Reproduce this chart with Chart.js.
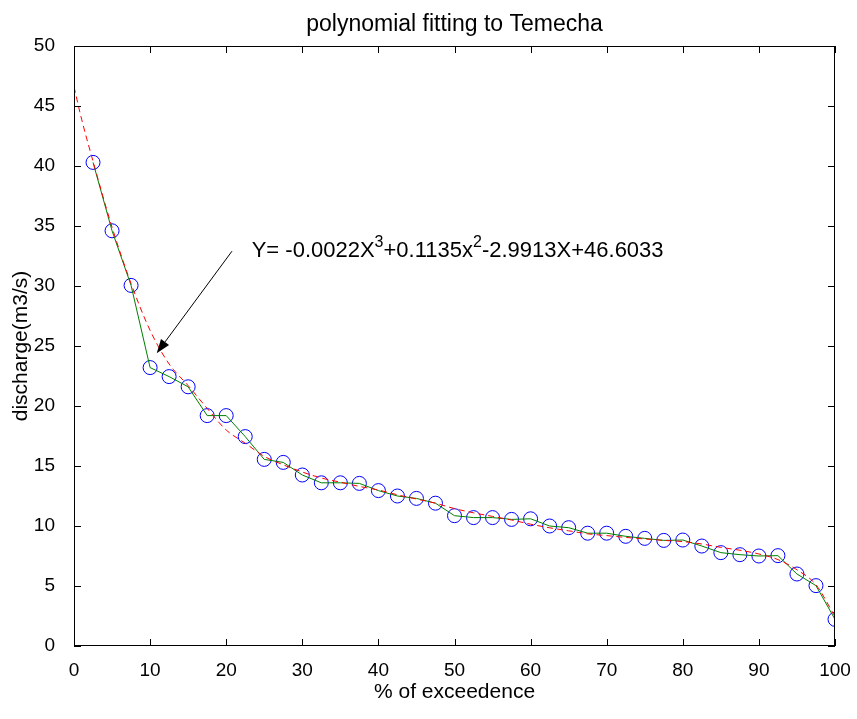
<!DOCTYPE html>
<html>
<head>
<meta charset="utf-8">
<title>polynomial fitting to Temecha</title>
<script src="https://cdn.jsdelivr.net/npm/chart.js@4.4.1/dist/chart.umd.min.js"></script>
<style>
  html, body { margin: 0; padding: 0; background: #fff; }
  canvas { display: block; }
</style>
</head>
<body>
<canvas id="fdc" width="857" height="719"></canvas>
<script>
// observed flow duration points (% of exceedence vs discharge)
const exceedence = [2.5, 5, 7.5, 10, 12.5, 15, 17.5, 20, 22.5, 25, 27.5, 30, 32.5, 35, 37.5, 40,
    42.5, 45, 47.5, 50, 52.5, 55, 57.5, 60, 62.5, 65, 67.5, 70, 72.5, 75, 77.5, 80,
    82.5, 85, 87.5, 90, 92.5, 95, 97.5, 100];
const discharge = [40.3, 34.6, 30.05, 23.2, 22.45, 21.6, 19.2, 19.2, 17.45, 15.55, 15.3, 14.25, 13.6, 13.6, 13.55, 12.95,
    12.5, 12.3, 11.9, 10.86, 10.7, 10.7, 10.55, 10.6, 10.0, 9.86, 9.4, 9.4, 9.14, 8.97, 8.8, 8.83,
    8.33, 7.78, 7.61, 7.5, 7.53, 6.0, 5.03, 2.22];

// fitted curve
const fitX = [0, 1, 2.5, 5, 7.5, 10, 12.5, 15, 17.5, 20, 22.5, 25, 27.5, 30, 32.5, 35, 37.5, 40,
    42.5, 45, 47.5, 50, 52.5, 55, 57.5, 60, 62.5, 65, 67.5, 70, 72.5, 75, 77.5, 80,
    82.5, 85, 87.5, 90, 92.5, 95, 97.5, 100];
const fitY = [46.6, 43.9, 40.4, 34.9, 30.2, 26.3, 23.5, 21.7, 19.8, 18.0, 16.9, 15.8, 15.1, 14.5, 14.0, 13.65, 13.3, 13.0,
    12.6, 12.25, 11.9, 11.45, 11.1, 10.8, 10.5, 10.15, 9.85, 9.6, 9.35, 9.2, 9.05, 8.92, 8.8, 8.7,
    8.5, 8.22, 7.98, 7.67, 7.2, 6.35, 5.1, 2.45];

const xTicksMax = 100, yTicksMax = 50;
const FONT = '"Liberation Sans", Arial, Helvetica, sans-serif';

const toXY = (xs, ys) => xs.map((x, i) => ({ x: x, y: ys[i] }));

// matlab-style box with inward ticks, title and the equation arrow
const matlabFrame = {
    id: 'matlabFrame',
    beforeDraw(chart) {
        const ctx = chart.ctx;
        ctx.save();
        ctx.fillStyle = '#fff';
        ctx.fillRect(0, 0, chart.width, chart.height);
        ctx.restore();
    },
    afterDraw(chart) {
        const ctx = chart.ctx;
        const a = chart.chartArea;
        const xs = chart.scales.x, ys = chart.scales.y;
        const tl = 7;
        ctx.save();
        ctx.strokeStyle = '#000';
        ctx.lineWidth = 1;
        ctx.strokeRect(a.left + 0.5, a.top + 0.5, a.right - a.left - 1, a.bottom - a.top - 1);
        ctx.beginPath();
        xs.ticks.forEach(t => {
            const px = Math.round(xs.getPixelForValue(t.value)) + 0.5;
            ctx.moveTo(px, a.bottom); ctx.lineTo(px, a.bottom - tl);
            ctx.moveTo(px, a.top); ctx.lineTo(px, a.top + tl);
        });
        ys.ticks.forEach(t => {
            const py = Math.round(ys.getPixelForValue(t.value)) + 0.5;
            ctx.moveTo(a.left, py); ctx.lineTo(a.left + tl, py);
            ctx.moveTo(a.right, py); ctx.lineTo(a.right - tl, py);
        });
        ctx.stroke();

        // title
        ctx.fillStyle = '#000';
        ctx.font = '23px ' + FONT;
        ctx.textAlign = 'center';
        ctx.textBaseline = 'alphabetic';
        ctx.fillText('polynomial fitting to Temecha', (a.left + a.right) / 2, 31);

        // arrow to the fitted curve
        const tx = xs.getPixelForValue(20.76), ty = ys.getPixelForValue(32.9);
        const hx = xs.getPixelForValue(10.87), hy = ys.getPixelForValue(24.4);
        const ang = Math.atan2(hy - ty, hx - tx);
        const hl = 14, hw = 5;
        const bx = hx - hl * Math.cos(ang), by = hy - hl * Math.sin(ang);
        ctx.beginPath();
        ctx.moveTo(tx, ty);
        ctx.lineTo(bx, by);
        ctx.stroke();
        ctx.beginPath();
        ctx.moveTo(hx, hy);
        ctx.lineTo(bx + hw * Math.sin(ang), by - hw * Math.cos(ang));
        ctx.lineTo(bx - hw * Math.sin(ang), by + hw * Math.cos(ang));
        ctx.closePath();
        ctx.fill();

        // equation text with superscripts
        const parts = [
            ['Y= -0.0022X', false], ['3', true], ['+0.1135x', false], ['2', true],
            ['-2.9913X+46.6033', false]
        ];
        let cx = xs.getPixelForValue(23.35);
        const base = ys.getPixelForValue(32.4);
        ctx.textAlign = 'left';
        parts.forEach(([s, sup]) => {
            ctx.font = (sup ? '16px ' : '22px ') + FONT;
            ctx.fillText(s, cx, sup ? base - 10 : base);
            cx += ctx.measureText(s).width;
        });
        ctx.restore();
    }
};

const ctx = document.getElementById('fdc').getContext('2d');
const chart = new Chart(ctx, {
    type: 'scatter',
    data: {
        datasets: [
            {
                label: 'polyfit',
                data: toXY(fitX, fitY),
                showLine: true,
                borderColor: '#ff0000',
                borderWidth: 1,
                borderDash: [6, 4],
                pointRadius: 0,
                cubicInterpolationMode: 'monotone',
                order: 1
            },
            {
                label: 'observed line',
                data: toXY(exceedence, discharge),
                showLine: true,
                borderColor: '#008000',
                borderWidth: 1,
                pointRadius: 0,
                tension: 0,
                order: 2
            },
            {
                label: 'observed',
                data: toXY(exceedence, discharge),
                showLine: false,
                pointStyle: 'circle',
                pointRadius: 7,
                pointBorderWidth: 1,
                pointBorderColor: '#0000ff',
                pointBackgroundColor: 'rgba(0,0,0,0)',
                order: 3
            }
        ]
    },
    options: {
        responsive: false,
        animation: false,
        layout: { padding: { top: 46, right: 22, left: 0, bottom: 0 } },
        plugins: {
            legend: { display: false },
            tooltip: { enabled: false }
        },
        scales: {
            x: {
                type: 'linear',
                min: 0,
                max: xTicksMax,
                grid: { display: false },
                border: { display: false },
                ticks: { stepSize: 10, color: '#000', padding: 5, font: { family: FONT, size: 19 } },
                title: {
                    display: true,
                    text: '% of exceedence',
                    color: '#000',
                    font: { family: FONT, size: 21 },
                    padding: { top: 0, bottom: 14 }
                },
                afterFit: s => { s.height = 73; }
            },
            y: {
                min: 0,
                max: yTicksMax,
                grid: { display: false },
                border: { display: false },
                ticks: { stepSize: 5, color: '#000', padding: 11, font: { family: FONT, size: 19 } },
                title: {
                    display: true,
                    text: 'discharge(m3/s)',
                    color: '#000',
                    font: { family: FONT, size: 21 },
                    padding: { top: 9, bottom: 0 }
                },
                afterFit: s => { s.width = 74; }
            }
        }
    },
    plugins: [matlabFrame]
});
</script>
</body>
</html>
